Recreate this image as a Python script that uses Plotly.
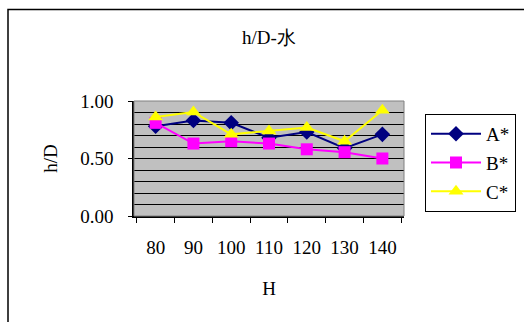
import plotly.graph_objects as go

categories = ["80", "90", "100", "110", "120", "130", "140"]
series_a = [0.78, 0.83, 0.81, 0.68, 0.73, 0.59, 0.71]
series_b = [0.81, 0.63, 0.65, 0.63, 0.58, 0.555, 0.50]
series_c = [0.86, 0.905, 0.71, 0.74, 0.77, 0.65, 0.92]
names = ["A*", "B*", "C*"]
y_ticks = [0.0, 0.5, 1.0]
y_tick_labels = ["0.00", "0.50", "1.00"]

W, H = 524, 322
L, R, T, B = 134, 404, 101, 216.5

serif = "Liberation Serif"
FS = 19

fig = go.Figure()
styles = [
    dict(color="#000080", symbol="diamond", size=12),
    dict(color="#FF00FF", symbol="square", size=12),
    dict(color="#FFFF00", symbol="triangle-up", size=13),
]
for i, (nm, vals) in enumerate(zip(names, [series_a, series_b, series_c])):
    st = styles[i]
    fig.add_trace(go.Scatter(
        x=categories, y=vals, name=nm, mode="lines+markers",
        legendgroup=nm,
        line=dict(color=st["color"], width=2),
        marker=dict(color=st["color"], symbol=st["symbol"], size=st["size"],
                    line=dict(width=0)),
    ))

def px_to_paper_x(px):
    return (px - L) / (R - L)

def px_to_paper_y(py):
    return (B - py) / (B - T)

fig.update_layout(
    width=W, height=H,
    margin=dict(l=L, r=W - R, t=T, b=H - B, autoexpand=False),
    paper_bgcolor="white",
    plot_bgcolor="#C0C0C0",
    font=dict(family=serif, size=FS, color="black"),
    title=dict(text="h/D-水", x=(L + R) / 2 / W, xanchor="center",
               y=1 - 37 / H, yanchor="middle",
               font=dict(family=serif, size=FS, color="black")),
    xaxis=dict(
        type="category", tickson="boundaries", ticks="outside", ticklen=5,
        tickcolor="black", showgrid=False, showline=True, linecolor="black",
        linewidth=1.5, mirror=False, tickfont=dict(family=serif, size=FS),
        ticklabelstandoff=13, tickangle=0,
        title=dict(text="H", font=dict(family=serif, size=FS), standoff=25),
    ),
    yaxis=dict(
        range=[0, 1], tickvals=y_ticks, ticktext=y_tick_labels,
        ticks="outside", ticklen=4, tickcolor="black",
        showgrid=True, gridcolor="black", gridwidth=1,
        minor=dict(dtick=0.1, showgrid=True, gridcolor="black", gridwidth=1),
        showline=True, linecolor="black", linewidth=1.5,
        tickfont=dict(family=serif, size=FS), zeroline=False, ticklabelstandoff=11,
        title=dict(text="h/D", font=dict(family=serif, size=FS), standoff=18),
    ),
    legend=dict(
        x=px_to_paper_x(425), y=px_to_paper_y(114), xanchor="left", yanchor="top",
        bordercolor="black", borderwidth=1, bgcolor="white",
        font=dict(family=serif, size=FS), traceorder="grouped",
        tracegroupgap=1, itemwidth=50,
    ),
    showlegend=True,
    shapes=[
        dict(type="rect", xref="paper", yref="paper",
             x0=0, x1=1, y0=0, y1=1,
             line=dict(color="#808080", width=1), fillcolor="rgba(0,0,0,0)",
             layer="above"),
        dict(type="rect", xref="paper", yref="paper",
             x0=px_to_paper_x(8), x1=px_to_paper_x(540),
             y0=px_to_paper_y(340), y1=px_to_paper_y(9),
             line=dict(color="black", width=1.5), fillcolor="rgba(0,0,0,0)"),
    ],
)

fig.write_html("out.html")
